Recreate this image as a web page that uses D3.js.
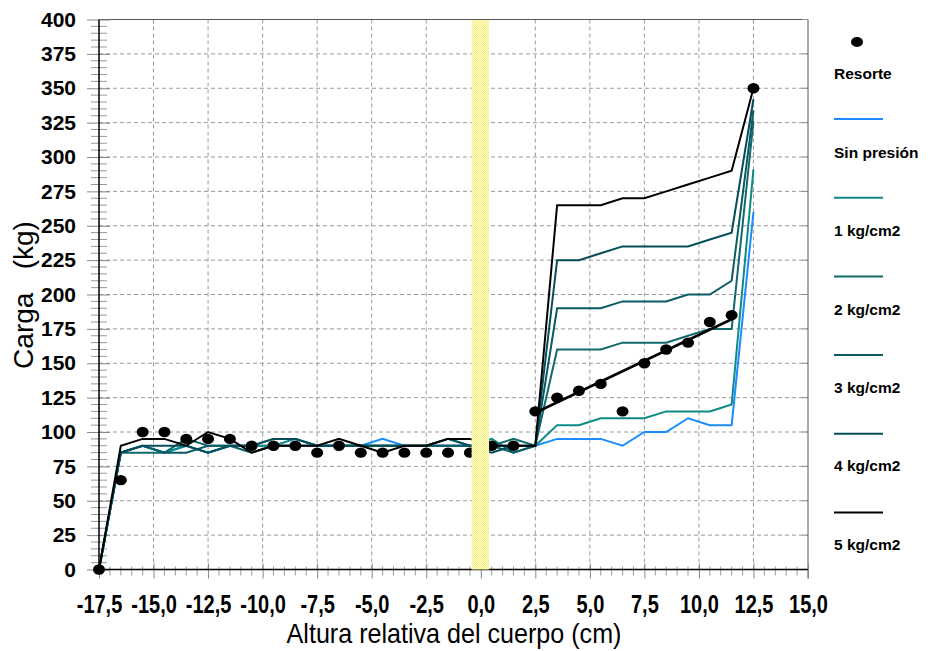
<!DOCTYPE html>
<html>
<head>
<meta charset="utf-8">
<script src="https://cdn.jsdelivr.net/npm/d3@7"></script>
<style>
  body { margin: 0; background: #fff; }
  svg { display: block; }
</style>
</head>
<body>
<div id="chart"></div>
<script>
// altura relativa del cuerpo (cm)
var alturas = [-17.5, -16.5, -15.5, -14.5, -13.5, -12.5, -11.5, -10.5, -9.5, -8.5, -7.5,
    -6.5, -5.5, -4.5, -3.5, -2.5, -1.5, -0.5, 0.5, 1.5, 2.5,
    3.5, 4.5, 5.5, 6.5, 7.5, 8.5, 9.5, 10.5, 11.5, 12.5];

var resorte = [0, 65, 100, 100, 95, 95, 95, 90, 90, 90, 85,
    90, 85, 85, 85, 85, 85, 85, 90, 90, 115,
    125, 130, 135, 115, 150, 160, 165, 180, 185, 350];

var sinPresion = [0, 85, 90, 85, 90, 85, 90, 90, 90, 90, 90,
    90, 90, 95, 90, 90, 90, 90, 90, 90, 90,
    95, 95, 95, 90, 100, 100, 110, 105, 105, 260];
var kg1 = [0, 85, 90, 85, 90, 85, 90, 90, 90, 95, 90,
    90, 90, 90, 90, 90, 95, 90, 95, 85, 90,
    105, 105, 110, 110, 110, 115, 115, 115, 120, 291];
var kg2 = [0, 85, 85, 85, 95, 90, 90, 90, 95, 95, 90,
    90, 90, 90, 90, 90, 90, 90, 90, 95, 90,
    160, 160, 160, 165, 165, 165, 170, 175, 175, 326];
var kg3 = [0, 85, 90, 85, 85, 90, 90, 85, 90, 90, 90,
    90, 90, 90, 90, 90, 90, 90, 90, 85, 90,
    190, 190, 190, 195, 195, 195, 200, 200, 210, 334];
var kg4 = [0, 85, 90, 90, 90, 85, 90, 90, 95, 95, 90,
    90, 90, 90, 90, 90, 95, 90, 85, 90, 90,
    225, 225, 230, 235, 235, 235, 235, 240, 245, 342];
var kg5 = [0, 90, 95, 95, 90, 100, 95, 85, 90, 90, 90,
    95, 90, 85, 90, 90, 95, 95, 90, 90, 90,
    265, 265, 265, 270, 270, 275, 280, 285, 290, 350];

// recta de ajuste del resorte
var ajusteX = [2.5, 11.5];
var ajusteY = [114, 182];

var nombres = ["Sin presión", "1 kg/cm2", "2 kg/cm2", "3 kg/cm2", "4 kg/cm2", "5 kg/cm2"];
var colores = ["#1a8cff", "#0b8a86", "#106a6c", "#0a5a64", "#064c5a", "#000000"];
var series = [sinPresion, kg1, kg2, kg3, kg4, kg5];

var xTicks = [-17.5, -15, -12.5, -10, -7.5, -5, -2.5, 0, 2.5, 5, 7.5, 10, 12.5, 15];
var yTicks = [0, 25, 50, 75, 100, 125, 150, 175, 200, 225, 250, 275, 300, 325, 350, 375, 400];

var width = 928, height = 651;
var mLeft = 99, mRight = 808, mTop = 19.5, mBottom = 569.5;

var svg = d3.select("#chart")
    .append("svg")
    .attr("width", width)
    .attr("height", height);

var defs = svg.append("defs");
var pat = defs.append("pattern")
    .attr("id", "amarillo")
    .attr("width", 2)
    .attr("height", 2)
    .attr("patternUnits", "userSpaceOnUse");
pat.append("rect").attr("width", 2).attr("height", 2).attr("fill", "#fffde2");
pat.append("rect").attr("width", 1).attr("height", 1).attr("fill", "#f6ee6e");
pat.append("rect").attr("x", 1).attr("y", 1).attr("width", 1).attr("height", 1).attr("fill", "#f6ee6e");

var x = d3.scaleLinear().domain([-17.5, 15]).range([mLeft, mRight]);
var y = d3.scaleLinear().domain([0, 400]).range([mBottom, mTop]);

var fmt = function(d){ return d3.format(".1f")(d).replace(".", ",").replace("\u2212", "-"); };

// rejilla
svg.append("g")
    .selectAll("line.gy")
    .data(yTicks.filter(function(d){ return d > 0 && d < 400; }))
    .enter()
    .append("line")
    .attr("class", "gy")
    .attr("x1", mLeft)
    .attr("x2", mRight)
    .attr("y1", function(d){ return y(d); })
    .attr("y2", function(d){ return y(d); })
    .attr("stroke", "#9a9a9a")
    .attr("stroke-dasharray", "4,3");

svg.append("g")
    .selectAll("line.gx")
    .data(xTicks.filter(function(d){ return d > -17.5 && d < 15; }))
    .enter()
    .append("line")
    .attr("class", "gx")
    .attr("x1", function(d){ return x(d); })
    .attr("x2", function(d){ return x(d); })
    .attr("y1", mTop)
    .attr("y2", mBottom)
    .attr("stroke", "#9a9a9a")
    .attr("stroke-dasharray", "4,3");

// marco superior y derecho
svg.append("line")
    .attr("x1", mLeft).attr("x2", mRight)
    .attr("y1", mTop).attr("y2", mTop)
    .attr("stroke", "#555");
svg.append("line")
    .attr("x1", mRight).attr("x2", mRight)
    .attr("y1", mTop).attr("y2", mBottom + 9)
    .attr("stroke", "#555");

svg.append("g")
    .selectAll("line.rt")
    .data(yTicks)
    .enter()
    .append("line")
    .attr("class", "rt")
    .attr("x1", mRight - 6)
    .attr("x2", mRight)
    .attr("y1", function(d){ return y(d); })
    .attr("y2", function(d){ return y(d); })
    .attr("stroke", "#888");

// eje y
var yAxis = d3.axisLeft(y)
    .tickValues(yTicks)
    .tickSize(12)
    .tickPadding(10);
var gy = svg.append("g")
    .attr("transform", "translate(" + mLeft + ",0)")
    .call(yAxis);
gy.select(".domain").remove();
gy.selectAll(".tick line").attr("stroke", "#888").attr("x2", 11).attr("x1", -12);
gy.selectAll(".tick text")
    .attr("x", -23)
    .style("font-family", "'Liberation Sans', Arial, sans-serif")
    .style("font-weight", "bold")
    .style("font-size", "21px")
    .attr("fill", "#000");

svg.append("g")
    .selectAll("line.my")
    .data(d3.range(5, 400, 5).filter(function(d){ return d % 25 !== 0; }))
    .enter()
    .append("line")
    .attr("class", "my")
    .attr("x1", mLeft - 8)
    .attr("x2", mLeft + 8)
    .attr("y1", function(d){ return y(d); })
    .attr("y2", function(d){ return y(d); })
    .attr("stroke", "#999");

svg.append("line")
    .attr("x1", mLeft).attr("x2", mLeft)
    .attr("y1", mTop).attr("y2", mBottom)
    .attr("stroke", "#000")
    .attr("stroke-width", 1.5);

// eje x
var xAxis = d3.axisBottom(x)
    .tickValues(xTicks)
    .tickSize(9)
    .tickFormat(fmt);
var gx = svg.append("g")
    .attr("transform", "translate(0," + mBottom + ")")
    .call(xAxis);
gx.select(".domain").remove();
gx.selectAll(".tick line").attr("stroke", "#888").attr("y1", -6);
gx.selectAll(".tick text")
    .attr("y", 44)
    .attr("dy", null)
    .attr("transform", "scale(0.8,1)")
    .style("font-family", "'Liberation Sans', Arial, sans-serif")
    .style("font-weight", "bold")
    .style("font-size", "25px")
    .attr("fill", "#000");

svg.append("g")
    .selectAll("line.mx")
    .data(d3.range(-17, 15, 0.5).filter(function(d){ return (d + 17.5) % 2.5 !== 0; }))
    .enter()
    .append("line")
    .attr("class", "mx")
    .attr("x1", function(d){ return x(d); })
    .attr("x2", function(d){ return x(d); })
    .attr("y1", mBottom - 3)
    .attr("y2", mBottom + 6)
    .attr("stroke", "#999");

svg.append("line")
    .attr("x1", mLeft).attr("x2", mRight)
    .attr("y1", mBottom).attr("y2", mBottom)
    .attr("stroke", "#000")
    .attr("stroke-width", 1.5);

// series
var line = d3.line()
    .x(function(d){ return x(d[0]); })
    .y(function(d){ return y(d[1]); });

svg.append("g")
    .selectAll("path.serie")
    .data(series)
    .enter()
    .append("path")
    .attr("class", "serie")
    .attr("d", function(s){ return line(alturas.map(function(a, i){ return [a, s[i]]; })); })
    .attr("fill", "none")
    .attr("stroke", function(s, i){ return colores[i]; })
    .attr("stroke-width", 2)
    .attr("stroke-linejoin", "miter");

svg.append("path")
    .attr("d", line(ajusteX.map(function(a, i){ return [a, ajusteY[i]]; })))
    .attr("fill", "none")
    .attr("stroke", "#000")
    .attr("stroke-width", 2.5);

svg.append("g")
    .selectAll("ellipse.punto")
    .data(resorte)
    .enter()
    .append("ellipse")
    .attr("class", "punto")
    .attr("cx", function(d, i){ return x(alturas[i]); })
    .attr("cy", function(d){ return y(d); })
    .attr("rx", 6)
    .attr("ry", 5.2)
    .attr("fill", "#000");

// franja amarilla en 0
svg.append("rect")
    .attr("x", x(-0.42))
    .attr("y", mTop + 0.5)
    .attr("width", x(0.38) - x(-0.42))
    .attr("height", mBottom - mTop - 0.5)
    .attr("fill", "url(#amarillo)");

// titulos de ejes
svg.append("text")
    .attr("transform", "translate(33,295) rotate(-90)")
    .attr("text-anchor", "middle")
    .style("font-family", "'Liberation Sans', Arial, sans-serif")
    .style("font-size", "28px")
    .style("white-space", "pre")
    .text("Carga   (kg)");

svg.append("text")
    .attr("transform", "translate(454,643) scale(0.93,1)")
    .attr("text-anchor", "middle")
    .style("font-family", "'Liberation Sans', Arial, sans-serif")
    .style("font-size", "27px")
    .text("Altura relativa del cuerpo (cm)");

// leyenda
var leg = svg.append("g")
    .style("font-family", "'Liberation Sans', Arial, sans-serif")
    .style("font-size", "15.5px")
    .style("font-weight", "bold");

leg.append("ellipse")
    .attr("cx", 857).attr("cy", 42)
    .attr("rx", 6).attr("ry", 5)
    .attr("fill", "#000");
leg.append("text")
    .attr("x", 834).attr("y", 79)
    .text("Resorte");

leg.selectAll("line.ley")
    .data(nombres)
    .enter()
    .append("line")
    .attr("class", "ley")
    .attr("x1", 834).attr("x2", 883)
    .attr("y1", function(d, i){ return 119 + i * 78.7; })
    .attr("y2", function(d, i){ return 119 + i * 78.7; })
    .attr("stroke", function(d, i){ return colores[i]; })
    .attr("stroke-width", 2);

leg.selectAll("text.ley")
    .data(nombres)
    .enter()
    .append("text")
    .attr("class", "ley")
    .attr("x", 834)
    .attr("y", function(d, i){ return 158 + i * 78.3; })
    .text(function(d){ return d; });
</script>
</body>
</html>
